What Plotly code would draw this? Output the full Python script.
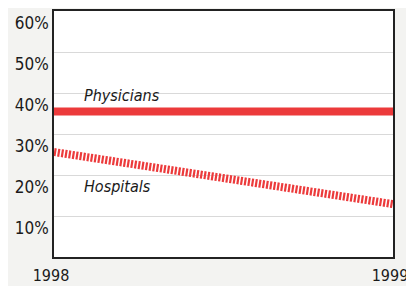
import plotly.graph_objects as go

years = [1998, 1999]
physicians = [35.5, 35.5]
hospitals = [25.6, 12.9]
y_ticks = [10, 20, 30, 40, 50, 60]
y_tick_labels = ["10%", "20%", "30%", "40%", "50%", "60%"]
x_tick_labels = ["1998", "1999"]

FONT = "DejaVu Sans Condensed, Liberation Sans, sans-serif"
RED = "#ec3a3b"

fig = go.Figure()
fig.add_trace(go.Scatter(x=years, y=physicians, mode="lines",
                         line=dict(color=RED, width=8), name="Physicians",
                         cliponaxis=True))
fig.add_trace(go.Scatter(x=years, y=hospitals, mode="lines",
                         line=dict(color=RED, width=8, dash="2.2px,1.5px"),
                         name="Hospitals", cliponaxis=True))

fig.add_annotation(x=1998.083, y=39.4, text="<i>Physicians</i>", showarrow=False,
                   xanchor="left", yanchor="middle",
                   font=dict(family=FONT, size=16, color="#1a1a1a"))
fig.add_annotation(x=1998.083, y=17.3, text="<i>Hospitals</i>", showarrow=False,
                   xanchor="left", yanchor="middle",
                   font=dict(family=FONT, size=16, color="#1a1a1a"))

fig.update_layout(
    width=414, height=286,
    margin=dict(l=46, r=29, t=3, b=37, autoexpand=False),
    paper_bgcolor="#f3f3f1", plot_bgcolor="#ffffff",
    showlegend=False,
    font=dict(family=FONT, size=17, color="#1a1a1a"),
)
fig.update_xaxes(range=[1998, 1999], tickvals=years, ticktext=x_tick_labels,
                 showgrid=False, zeroline=False, showline=True, mirror=True,
                 linecolor="#222222", linewidth=1.5, ticks="", ticklabelstandoff=3,
                 ticklabelshift=-3,
                 tickfont=dict(size=16), ticklabeloverflow="allow",
                 automargin=False)
fig.update_yaxes(range=[0, 60], tickvals=y_ticks, ticktext=y_tick_labels,
                 showgrid=True, gridcolor="#d9d9d9", gridwidth=1,
                 zeroline=False, showline=True, mirror=True,
                 linecolor="#222222", linewidth=1.5, ticks="", ticklabelstandoff=0,
                 ticklabelposition="outside bottom", ticklabeloverflow="allow",
                 automargin=False)

fig.write_html("out.html")
